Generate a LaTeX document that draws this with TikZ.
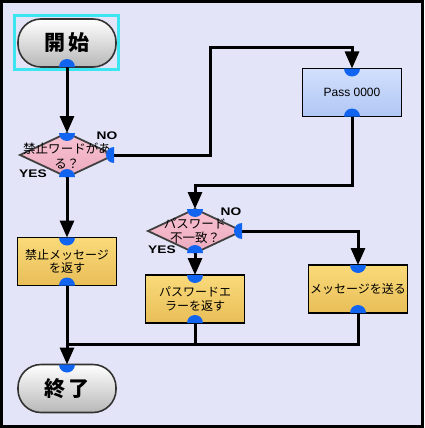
\documentclass[tikz,border=0pt]{standalone}
\usepackage{fontspec}
\setmainfont{Liberation Sans}
\newfontfamily\jp{Noto Sans CJK JP}
\newfontfamily\labfont{Liberation Sans}[FakeStretch=1.25]
\usetikzlibrary{arrows.meta,shapes.geometric}
\definecolor{bgc}{RGB}{228,228,248}
\definecolor{yel}{RGB}{250,218,122}
\definecolor{yeldark}{RGB}{232,190,88}
\definecolor{pinkc}{RGB}{248,194,210}
\definecolor{pinkdark}{RGB}{236,170,190}
\definecolor{bluebox}{RGB}{210,224,252}
\definecolor{blueboxdark}{RGB}{176,198,244}
\definecolor{portc}{RGB}{16,100,240}
\definecolor{selc}{RGB}{60,230,240}
\newcommand\portN[1]{\fill[portc] ([xshift=-8pt]#1) arc[start angle=180,end angle=360,radius=8pt] -- cycle;}
\newcommand\portS[1]{\fill[portc] ([xshift=-8pt]#1) arc[start angle=180,end angle=0,radius=8pt] -- cycle;}
\newcommand\portE[1]{\fill[portc] ([yshift=8pt]#1) arc[start angle=90,end angle=270,radius=8pt] -- cycle;}
\begin{document}
\begin{tikzpicture}[x=1pt,y=-1pt,
  conn/.style={line width=3pt,black},
  arr/.style={conn,-{Triangle[length=17pt,width=14pt]}},
  term/.style={rounded corners=23pt,draw=black!80,line width=1.6pt,top color=white,bottom color=black!28,
     minimum width=98pt,minimum height=48pt,inner sep=0pt,outer sep=0pt,font=\jp\bfseries\fontsize{21}{23}\selectfont},
  procbox/.style={draw=black,line width=1.6pt,top color=yel,bottom color=yeldark,
     minimum width=99pt,minimum height=48pt,inner sep=0pt,outer sep=0pt,align=center,
     font=\jp\fontsize{12}{13.5}\selectfont},
  passbox/.style={procbox,top color=bluebox,bottom color=blueboxdark,font=\fontsize{12}{14}\selectfont},
  dia/.style={diamond,draw=black!75,line width=1.8pt,top color=pinkc,bottom color=pinkdark,
     minimum width=94pt,minimum height=44pt,inner sep=0pt,outer sep=0pt},
  dtext/.style={align=center,inner sep=0pt,font=\jp\fontsize{12.5}{14.5}\selectfont},
  lab/.style={inner sep=0pt,font=\labfont\bfseries\fontsize{11}{12}\selectfont}]
\useasboundingbox (0,0) rectangle (424,428);
\draw[line width=3pt,fill=bgc] (1.5,1.5) rectangle (422.5,426.5);

% selection frame
\draw[selc,line width=2.5pt] (14.5,15.5) rectangle (118.5,69.5);

% nodes
\node[term] (start) at (67,43) {開\kern3pt 始};
\node[dia] (d1) at (67,155) {};
\node[dtext] (d1t) at (67,156) {禁止ワードがあ\\る？};
\node[passbox] (pass) at (352,92.5) {Pass 0000};
\node[procbox] (box1) at (67,261.5) {禁止メッセージ\\を返す};
\node[dia] (d2) at (195,231) {};
\node[dtext] (d2t) at (195,231) {パスワード\\不一致？};
\node[procbox] (box2) at (195,299) {パスワードエ\\ラーを返す};
\node[procbox] (box3) at (358,289) {メッセージを送る};
\node[term] (end) at (67,388.5) {終\kern3pt 了};

% labels
\node[lab] (no1) at (107,136) {NO};
\node[lab] (yes1) at (33,174) {YES};
\node[lab] (no2) at (231,212) {NO};
\node[lab] (yes2) at (162,250) {YES};

% connectors
\coordinate (k1) at (210,48);
\coordinate (k2) at (195,185);
\coordinate (j) at (67,344);
\draw[arr] (start.south) -- (d1.north);
\draw[arr] (d1.east) -| (k1) -| (pass.north);
\draw[arr] (pass.south) |- (k2) -- (d2.north);
\draw[arr] (d1.south) -- (box1.north);
\draw[arr] (d2.east) -| (box3.north);
\draw[arr] (d2.south) -- (box2.north);
\draw[arr] (box1.south) -- (end.north);
\draw[conn] (box2.south) |- (j);
\draw[conn] (box3.south) |- (j);

% ports
\portS{start.south}
\portN{d1.north}\portS{d1.south}\portE{d1.east}
\portN{pass.north}\portS{pass.south}
\portN{box1.north}\portS{box1.south}
\portN{d2.north}\portS{d2.south}\portE{d2.east}
\portN{box2.north}\portS{box2.south}
\portN{box3.north}\portS{box3.south}
\portN{end.north}
\end{tikzpicture}
\end{document}
